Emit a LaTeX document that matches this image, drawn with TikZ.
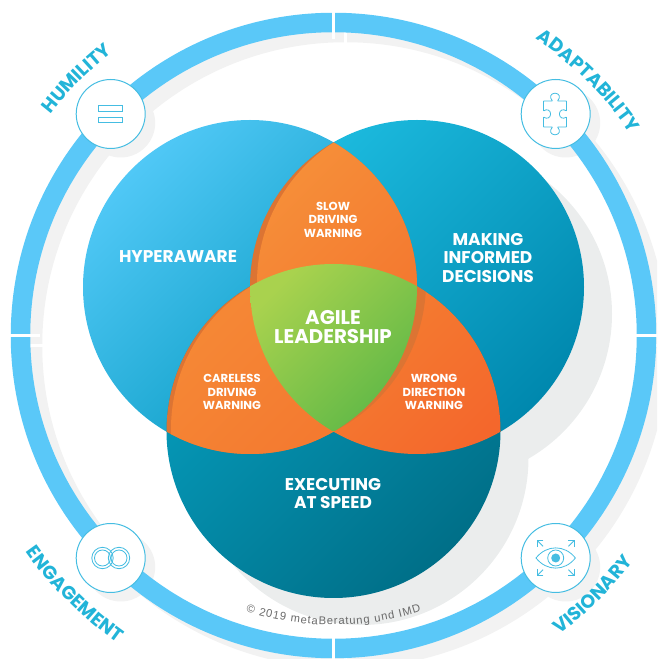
\documentclass[tikz,border=0pt]{standalone}
\usepackage{fontspec}
\usetikzlibrary{decorations.text}
\newfontfamily\gf{Poppins}
\setmainfont{Liberation Sans}
\definecolor{ringc}{HTML}{5AC8F8}
\definecolor{ringsh}{HTML}{F2F2F2}
\definecolor{circsh}{HTML}{EBEDED}
\definecolor{iconc}{HTML}{45BDE2}
\definecolor{labelc}{HTML}{22B4D8}
\definecolor{lA}{HTML}{50C8F6}\definecolor{lB}{HTML}{0096BC}
\definecolor{rA}{HTML}{1CBADE}\definecolor{rB}{HTML}{0088AE}
\definecolor{bA}{HTML}{069CBC}\definecolor{bB}{HTML}{006F88}
\definecolor{oA}{HTML}{F6913A}\definecolor{oB}{HTML}{F47A30}
\definecolor{oC}{HTML}{F47F31}\definecolor{oD}{HTML}{F4672C}
\definecolor{gA}{HTML}{A9D24E}\definecolor{gB}{HTML}{5FB847}
\definecolor{darkO}{HTML}{DC7433}
\tikzset{
 x=1pt,y=1pt,
 big/.style={text=white,align=center,font=\gf\bfseries\fontsize{17}{18.5}\selectfont,inner sep=0pt},
 small/.style={text=white,align=center,font=\gf\bfseries\fontsize{11.6}{13.5}\selectfont,inner sep=0pt},
 centre/.style={text=white,align=center,font=\gf\bfseries\fontsize{19.8}{19}\selectfont,inner sep=0pt},
 iconline/.style={draw=iconc,line width=0.8pt,fill=none},
 badge/.style={circle,draw=iconc,line width=1pt,fill=white,minimum size=69pt,inner sep=0pt},
 badgeshadow/.style={circle,fill=ringsh,minimum size=69pt,inner sep=0pt},
 arrowl/.style={draw=iconc,line width=0.8pt},
}
\def\Lc{(250,372) circle[radius=167]}
\def\Rc{(417,372) circle[radius=167]}
\def\Bc{(333.5,228) circle[radius=167]}
\newcommand{\curvelabel}[4]{%
 \path[decorate,decoration={text along path,text align=center,
 text={|\gf\bfseries\fontsize{18.8}{18.8}\selectfont\color{labelc}|#4}}]
 (333.5,323.5)++(#1:#3) arc[start angle=#1,end angle=#2,radius=#3];}
\begin{document}
\begin{tikzpicture}
\useasboundingbox (0,0) rectangle (657,659);
\clip (0,0) rectangle (657,659);
% ring shadow
\begin{scope}[shift={(12,-10)}]
 \draw[ringsh,line width=19.5pt] (333.5,323.5) circle[radius=313];
 \draw[white,line width=3pt] (333.5,0) -- (333.5,659);
 \draw[white,line width=3pt] (0,323.5) -- (700,323.5);
\end{scope}
% badge shadows
\node[badgeshadow] (s1) at (120.7,536) {};
\node[badgeshadow] (s2) at (565.7,536) {};
\node[badgeshadow] (s3) at (120.7,92) {};
\node[badgeshadow] (s4) at (565.7,92) {};
% ring
\draw[ringc,line width=19.5pt] (333.5,323.5) circle[radius=313];
\draw[white,line width=3pt] (333.5,0) -- (333.5,24);
\draw[white,line width=3pt] (333.5,620) -- (333.5,659);
\draw[white,line width=3pt] (0,323.5) -- (40,323.5);
\draw[white,line width=3pt] (625,323.5) -- (657,323.5);
% circle shadows
\fill[circsh] (445,345) circle[radius=167];
\fill[circsh] (361.5,201) circle[radius=167];
% circles
\shade[left color=lA,right color=lB,shading angle=45] \Lc;
\shade[left color=rA,right color=rB,shading angle=45] \Rc;
\shade[left color=bA,right color=bB,shading angle=45] \Bc;
% right lens
\begin{scope}
 \clip \Rc; \clip \Bc;
 \shade[left color=oC,right color=oD,shading angle=45] (333,195) rectangle (505,380);
 \fill[darkO] (259,377) circle[radius=167];
\end{scope}
% left lens
\begin{scope}
 \clip \Lc; \clip \Bc;
 \fill[darkO] (160,195) rectangle (340,380);
 \clip (338,230) circle[radius=167];
 \shade[left color=oA!60!oC,right color=oB,shading angle=45] (160,195) rectangle (340,380);
\end{scope}
% top lens
\begin{scope}
 \clip \Lc; \clip \Rc;
 \fill[darkO] (245,350) rectangle (425,520);
 \clip (424,376) circle[radius=167];
 \shade[left color=oA,right color=oB,shading angle=45] (245,350) rectangle (425,520);
\end{scope}
% centre
\begin{scope}
 \clip \Lc; \clip \Rc; \clip \Bc;
 \shade[left color=gA,right color=gB,shading angle=45] (250,228) rectangle (417,395);
\end{scope}
% texts
\node[big] (hyper) at (178,402) {HYPERAWARE};
\node[big] (making) at (488,401) {MAKING\\INFORMED\\DECISIONS};
\node[big] (exec) at (333,165.5) {EXECUTING\\AT SPEED};
\node[small] (slow) at (333,439.5) {SLOW\\DRIVING\\WARNING};
\node[small] (careless) at (232,267) {CARELESS\\DRIVING\\WARNING};
\node[small] (wrong) at (434,267) {WRONG\\DIRECTION\\WARNING};
\node[centre] (agile) at (333,332) {AGILE\\LEADERSHIP};
% curved labels
\curvelabel{170}{100}{359}{HUMILITY}
\curvelabel{90}{0}{359}{ADAPTABILITY}
\curvelabel{180}{270}{376}{ENGAGEMENT}
\curvelabel{-90}{0}{375}{VISIONARY}
\path[decorate,decoration={text along path,text align={fit to path},
 text={|\fontsize{11.2}{11.2}\selectfont\color[HTML]{6A6A6A}|© 2019 metaBeratung und IMD}}]
 (333.5,323.5)++(252.4:289.5) arc[start angle=252.4,end angle=287.6,radius=289.5];
% badges
\node[badge] (hum) at (110.7,545) {};
\node[badge] (ada) at (555.7,545) {};
\node[badge] (eng) at (110.7,101) {};
\node[badge] (vis) at (555.7,101) {};
% humility icon
\draw[iconline] (98.7,548) rectangle (122.3,553.7);
\draw[iconline] (98.7,536.3) rectangle (122.3,542);
% puzzle icon
\begin{scope}[shift={(555,545)}]
\draw[iconline,rounded corners=0.5pt] (-11.5,13) -- (-2.5,13)
 .. controls (-6,17) and (-4,20.7) .. (0,20.7)
 .. controls (4,20.7) and (6,17) .. (2.5,13)
 -- (11.5,13) -- (11.5,3)
 .. controls (8,5.5) and (4.5,3.5) .. (4.5,0)
 .. controls (4.5,-3.5) and (8,-5.5) .. (11.5,-3)
 -- (11.5,-13) -- (2.5,-13)
 .. controls (6,-17) and (4,-20.7) .. (0,-20.7)
 .. controls (-4,-20.7) and (-6,-17) .. (-2.5,-13)
 -- (-11.5,-13) -- (-11.5,-3)
 .. controls (-8,-5.5) and (-4.5,-3.5) .. (-4.5,0)
 .. controls (-4.5,3.5) and (-8,5.5) .. (-11.5,3)
 -- cycle;
\end{scope}
% rings icon
\foreach \cx in {102.5,119}{
 \draw[iconline] (\cx,101) circle[radius=10.7];
 \draw[iconline] (\cx,101) circle[radius=8];
}
% eye icon
\begin{scope}[shift={(555.7,101)}]
\draw[iconline] (-19.7,0) .. controls (-9,13.5) and (9,13.5) .. (19.7,0)
 .. controls (9,-13.5) and (-9,-13.5) .. (-19.7,0) -- cycle;
\draw[iconline] (0,0) circle[radius=8];
\fill[iconc] (0,0) circle[radius=4.5];
\foreach \sx/\sy in {1/1,1/-1,-1/1,-1/-1}{
 \draw[arrowl] (\sx*12.7,\sy*11.7) -- (\sx*18.3,\sy*17.3);
 \draw[arrowl] (\sx*12.3,\sy*17.3) -- (\sx*18.3,\sy*17.3) -- (\sx*18.3,\sy*11.3);
}
\end{scope}
\end{tikzpicture}
\end{document}
